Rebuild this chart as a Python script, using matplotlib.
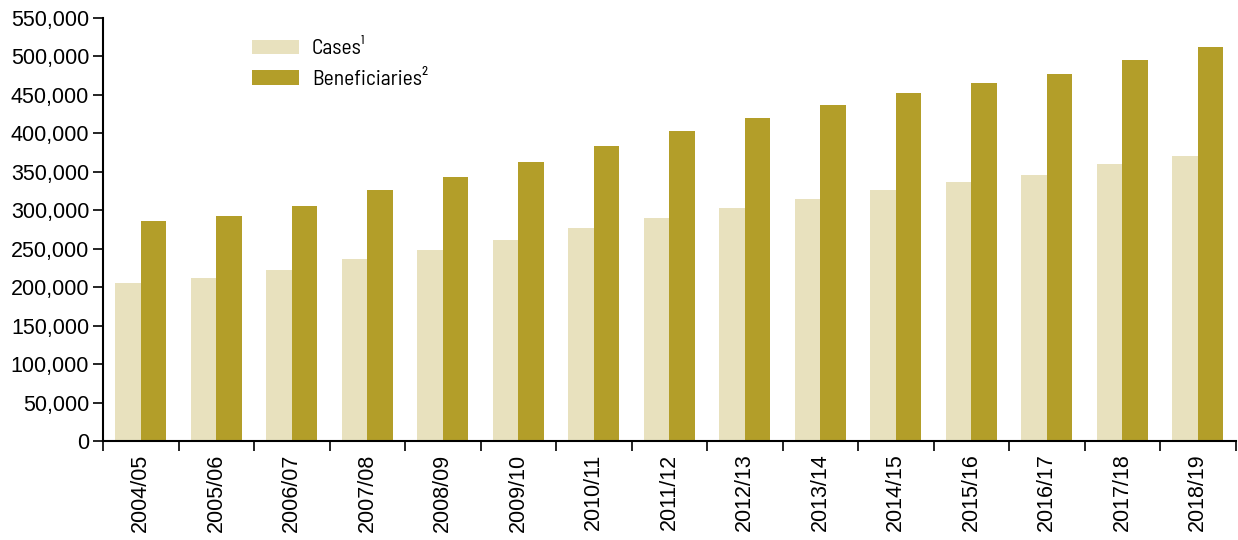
import os
import numpy as np
import matplotlib
matplotlib.use("Agg")
import matplotlib.pyplot as plt
from matplotlib import font_manager
from matplotlib.ticker import FuncFormatter, FixedLocator

# Data
years = ["2004/05", "2005/06", "2006/07", "2007/08", "2008/09", "2009/10",
         "2010/11", "2011/12", "2012/13", "2013/14", "2014/15", "2015/16",
         "2016/17", "2017/18", "2018/19"]
cases = [205800, 212300, 222300, 236200, 247900, 261700, 276400, 289900,
         302900, 314200, 326300, 336300, 346200, 359700, 370900]
beneficiaries = [285600, 292900, 305500, 325900, 343200, 362700, 383900, 403000,
                 419900, 436800, 452400, 465000, 476700, 494900, 511800]


def font_file(prefix):
    for f in font_manager.fontManager.ttflist:
        if os.path.basename(f.fname).lower().startswith(prefix):
            return f.fname
    return None


regular_file = font_file("liberationsans-regular")
narrow_file = font_file("barlowsemicondensed-regular")

if regular_file:
    tick_font = font_manager.FontProperties(fname=regular_file, size=15.5)
else:
    tick_font = font_manager.FontProperties(family="DejaVu Sans", size=15)
if narrow_file:
    legend_font = font_manager.FontProperties(fname=narrow_file, size=15.5)
else:
    legend_font = font_manager.FontProperties(family="DejaVu Sans", size=14)

fig = plt.figure(figsize=(12.38, 5.4), dpi=100)
ax = fig.add_axes([0.0832, 0.1833, 0.9148, 0.7834])

x = np.arange(len(years))
w = 0.337
ax.bar(x - w / 2, cases, w, color="#e8e1be", label="Cases\u00b9")
ax.bar(x + w / 2, beneficiaries, w, color="#b39e29", label="Beneficiaries\u00b2")

ax.set_xlim(-0.5, len(years) - 0.5)
ax.set_ylim(0, 550000)
ax.set_yticks(np.arange(0, 550001, 50000))
ax.yaxis.set_major_formatter(FuncFormatter(lambda v, p: f"{int(v):,}"))

# tick marks between categories, labels at centres
ax.xaxis.set_major_locator(FixedLocator(np.arange(-0.5, len(years), 1.0)))
ax.xaxis.set_minor_locator(FixedLocator(x))
ax.set_xticklabels([], minor=False)
ax.set_xticklabels(years, minor=True, rotation=90)
ax.tick_params(axis="x", which="major", length=7, width=1.2, direction="out")
ax.tick_params(axis="x", which="minor", length=0, pad=9)
ax.tick_params(axis="y", length=7, width=1.2, pad=3)
for lbl in ax.get_xticklabels(minor=True) + ax.get_yticklabels():
    lbl.set_fontproperties(tick_font)

for s in ["top", "right"]:
    ax.spines[s].set_visible(False)
for s in ["left", "bottom"]:
    ax.spines[s].set_linewidth(1.5)

leg = ax.legend(loc="upper left", bbox_to_anchor=(0.1237, 0.97), frameon=False,
                prop=legend_font,
                handlelength=2.2, handleheight=0.65, handletextpad=0.6,
                labelspacing=0.55, borderaxespad=0)

fig.savefig("out.png", dpi=100)
